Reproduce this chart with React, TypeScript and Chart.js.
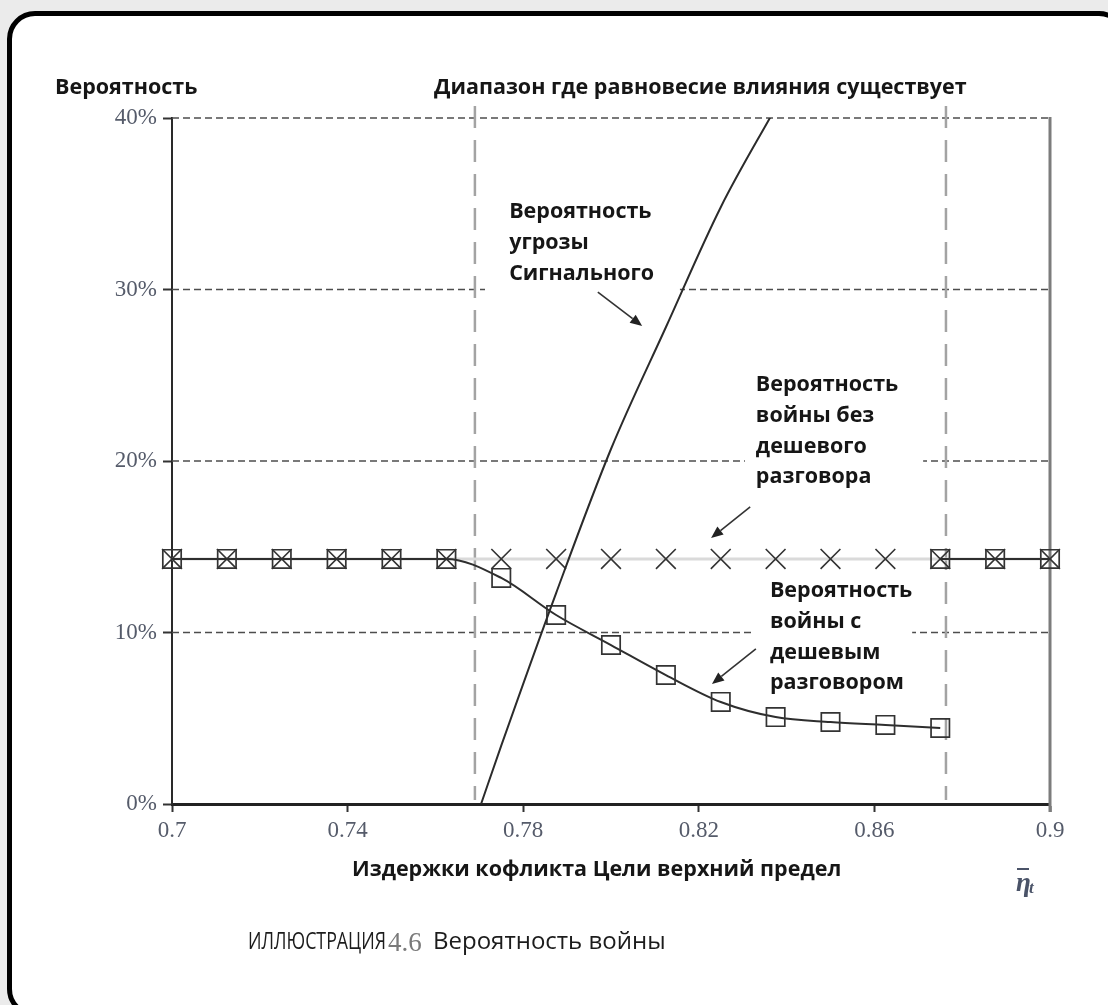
import React, { useEffect, useRef } from 'react';
import { Chart, registerables } from 'chart.js';

Chart.register(...registerables);

// ---- data (percent) ----
const gridX = [0.7, 0.7125, 0.725, 0.7375, 0.75, 0.7625, 0.775, 0.7875, 0.8, 0.8125, 0.825, 0.8375, 0.85, 0.8625, 0.875, 0.8875, 0.9];
const warNoTalk = [14.29, 14.29, 14.29, 14.29, 14.29, 14.29, 14.29, 14.29, 14.29, 14.29, 14.29, 14.29, 14.29, 14.29, 14.29, 14.29, 14.29];
const talkX = [0.7, 0.7125, 0.725, 0.7375, 0.75, 0.7625, 0.775, 0.7875, 0.8, 0.8125, 0.825, 0.8375, 0.85, 0.8625, 0.875];
const warCheapTalk = [14.29, 14.29, 14.29, 14.29, 14.29, 14.29, 13.18, 11.02, 9.27, 7.52, 5.95, 5.07, 4.78, 4.61, 4.43];
const talkTailX = [0.875, 0.8875, 0.9];
const warCheapTalkTail = [14.29, 14.29, 14.29];
const signalX = [0.7704, 0.775, 0.7875, 0.8, 0.8125, 0.825, 0.8375];
const signalThreat = [0, 3.4, 12.3, 20.7, 27.8, 34.8, 40.6];
const xTicks = [0.7, 0.74, 0.78, 0.82, 0.86, 0.9];
const yTicks = [0, 10, 20, 30, 40];
const rangeBounds = [0.769, 0.8763];

// ---- texts ----
const yTitle = 'Вероятность';
const topTitle = 'Диапазон где равновесие влияния существует';
const xTitle = 'Издержки кофликта Цели верхний предел';
const captionA = 'ИЛЛЮСТРАЦИЯ';
const captionNum = '4.6';
const captionB = 'Вероятность войны';
const signalLabel = ['Вероятность', 'угрозы', 'Сигнального'];
const noTalkLabel = ['Вероятность', 'войны без', 'дешевого', 'разговора'];
const talkLabel = ['Вероятность', 'войны с', 'дешевым', 'разговором'];

// annotation anchors in data units
const labelBlocks = [
  { lines: signalLabel, x: 0.7768, y: 34.52 },
  { lines: noTalkLabel, x: 0.833, y: 24.43 },
  { lines: talkLabel, x: 0.8362, y: 12.42 },
];
const maskBoxes = [
  { x1: 0.7713, x2: 0.8157, y1: 29.4, y2: 35.8 },
  { x1: 0.8305, x2: 0.8711, y1: 18.0, y2: 25.6 },
  { x1: 0.8328, x2: 0.8686, y1: 6.06, y2: 13.5 },
];
const arrows = [
  { x1: 0.797, y1: 29.85, x2: 0.8071, y2: 27.87 },
  { x1: 0.8317, y1: 17.32, x2: 0.8228, y2: 15.51 },
  { x1: 0.833, y1: 9.04, x2: 0.823, y2: 7.0 },
];

const toXY = (xs: number[], ys: number[]) => xs.map((v, i) => ({ x: v, y: ys[i] }));

const BOLD = '700 21.5px "Open Sans"';

const overlay = {
  id: 'overlay',
  beforeDatasetsDraw(chart: any) {
    const { ctx, chartArea: a, scales } = chart;
    const x = scales.x, y = scales.y;
    ctx.save();
    ctx.strokeStyle = '#4d4d4d';
    ctx.lineWidth = 1.6;
    ctx.setLineDash([7, 4]);
    yTicks.forEach((v) => {
      if (v === 0) return;
      const py = y.getPixelForValue(v);
      ctx.beginPath();
      ctx.moveTo(a.left, py);
      ctx.lineTo(a.right, py);
      ctx.stroke();
    });
    ctx.setLineDash([]);
    ctx.fillStyle = '#ffffff';
    maskBoxes.forEach((b) => {
      const x1 = x.getPixelForValue(b.x1), x2 = x.getPixelForValue(b.x2);
      const y1 = y.getPixelForValue(b.y2), y2 = y.getPixelForValue(b.y1);
      ctx.fillRect(x1, y1, x2 - x1, y2 - y1);
    });
    ctx.strokeStyle = '#a3a3a3';
    ctx.lineWidth = 2.5;
    ctx.setLineDash([22, 12]);
    rangeBounds.forEach((v) => {
      const px = x.getPixelForValue(v);
      ctx.beginPath();
      ctx.moveTo(px, a.top - 12);
      ctx.lineTo(px, a.bottom - 4);
      ctx.stroke();
    });
    ctx.setLineDash([]);
    ctx.strokeStyle = '#7c7c7c';
    ctx.lineWidth = 3;
    ctx.beginPath();
    ctx.moveTo(a.right, a.top - 1);
    ctx.lineTo(a.right, a.bottom + 8);
    ctx.stroke();
    ctx.restore();
  },
  afterDatasetsDraw(chart: any) {
    const { ctx, chartArea: a, scales } = chart;
    const x = scales.x, y = scales.y;
    ctx.save();
    ctx.fillStyle = '#161616';
    ctx.textBaseline = 'middle';
    ctx.textAlign = 'left';
    ctx.font = BOLD;
    labelBlocks.forEach((b) => {
      const px = x.getPixelForValue(b.x), py = y.getPixelForValue(b.y);
      b.lines.forEach((t, i) => ctx.fillText(t, px, py + i * 30.7));
    });
    ctx.strokeStyle = '#333';
    ctx.fillStyle = '#222';
    ctx.lineWidth = 1.6;
    arrows.forEach((r) => {
      const x1 = x.getPixelForValue(r.x1), y1 = y.getPixelForValue(r.y1);
      const x2 = x.getPixelForValue(r.x2), y2 = y.getPixelForValue(r.y2);
      const ang = Math.atan2(y2 - y1, x2 - x1);
      const hl = 12, hw = 5;
      const bx = x2 - hl * Math.cos(ang), by = y2 - hl * Math.sin(ang);
      ctx.beginPath();
      ctx.moveTo(x1, y1);
      ctx.lineTo(bx, by);
      ctx.stroke();
      ctx.beginPath();
      ctx.moveTo(x2, y2);
      ctx.lineTo(bx + hw * Math.sin(ang), by - hw * Math.cos(ang));
      ctx.lineTo(bx - hw * Math.sin(ang), by + hw * Math.cos(ang));
      ctx.closePath();
      ctx.fill();
    });
    ctx.fillStyle = '#161616';
    ctx.font = BOLD;
    ctx.fillText(yTitle, a.left - 117, 88);
    ctx.fillText(topTitle, 434, 88);
    ctx.fillText(xTitle, 352, 870);
    // eta with bar and subscript t
    ctx.fillStyle = '#4a5368';
    ctx.font = 'italic 700 27px "Liberation Serif"';
    ctx.fillText('η', 1016, 884);
    ctx.font = 'italic 700 17px "Liberation Serif"';
    ctx.fillText('t', 1029, 889);
    ctx.fillRect(1017, 868, 12, 2);
    // caption
    ctx.fillStyle = '#1c1c1c';
    ctx.font = '400 24px "Open Sans"';
    const wA = ctx.measureText(captionA).width;
    ctx.save();
    ctx.translate(248, 942);
    ctx.scale(138 / wA, 1);
    ctx.fillText(captionA, 0, 0);
    ctx.restore();
    let cx = 248 + 138 + 2;
    ctx.fillStyle = '#7a7a7a';
    ctx.font = '27px "Liberation Serif"';
    ctx.fillText(captionNum, cx, 944);
    cx = 433;
    ctx.fillStyle = '#1c1c1c';
    ctx.font = '400 24px "Open Sans"';
    ctx.fillText(captionB, cx, 942);
    ctx.restore();
  },
};

export default function App() {
  const ref = useRef<HTMLCanvasElement | null>(null);

  useEffect(() => {
    document.body.style.margin = '0';
    const canvas = ref.current;
    if (!canvas) return;
    const chart = new Chart(canvas, {
      type: 'line',
      data: {
        datasets: [
          {
            label: 'signal',
            data: toXY(signalX, signalThreat),
            borderColor: '#2b2b2b',
            borderWidth: 2,
            pointRadius: 0,
            cubicInterpolationMode: 'monotone',
            order: 0,
          },
          {
            label: 'talk',
            data: toXY(talkX, warCheapTalk),
            borderColor: '#2e2e2e',
            borderWidth: 2,
            pointStyle: 'rect',
            pointRadius: 13,
            pointBorderColor: '#333',
            pointBorderWidth: 1.7,
            pointBackgroundColor: 'rgba(0,0,0,0)',
            cubicInterpolationMode: 'monotone',
            clip: false,
            order: 1,
          },
          {
            label: 'talkTail',
            data: toXY(talkTailX, warCheapTalkTail),
            borderColor: '#2e2e2e',
            borderWidth: 2,
            pointStyle: 'rect',
            pointRadius: 13,
            pointBorderColor: '#333',
            pointBorderWidth: 1.7,
            pointBackgroundColor: 'rgba(0,0,0,0)',
            clip: false,
            order: 1,
          },
          {
            label: 'noTalk',
            data: toXY(gridX, warNoTalk),
            borderColor: '#dadada',
            borderWidth: 3,
            pointStyle: 'crossRot',
            pointRadius: 14,
            pointBorderColor: '#333',
            pointBorderWidth: 1.6,
            clip: false,
            order: 3,
          },
        ],
      } as any,
      options: {
        animation: false,
        responsive: false,
        layout: { padding: { left: 0, right: 58, top: 118, bottom: 0 } },
        plugins: { legend: { display: false }, tooltip: { enabled: false } },
        scales: {
          x: {
            type: 'linear',
            min: 0.7,
            max: 0.9,
            afterBuildTicks: (s: any) => { s.ticks = xTicks.map((v) => ({ value: v })); },
            afterFit: (s: any) => { s.height = 201; },
            ticks: {
              color: '#555b6a',
              font: { family: '"Liberation Serif"', size: 23 },
              padding: 5,
              maxRotation: 0,
              autoSkip: false,
              callback: (v: any) => String(+Number(v).toFixed(2)),
            },
            grid: { drawOnChartArea: false, drawTicks: true, tickLength: 8, tickColor: '#333', tickWidth: 2 },
            border: { display: true, color: '#222', width: 3 },
          },
          y: {
            type: 'linear',
            min: 0,
            max: 40,
            afterBuildTicks: (s: any) => { s.ticks = yTicks.map((v) => ({ value: v })); },
            afterFit: (s: any) => { s.width = 172; },
            ticks: {
              color: '#555b6a',
              font: { family: '"Liberation Serif"', size: 23 },
              padding: 6,
              callback: (v: any) => `${v}%`,
            },
            grid: { drawOnChartArea: false, drawTicks: true, tickLength: 9, tickColor: '#333', tickWidth: 2 },
            border: { display: true, color: '#2a2a2a', width: 2 },
          },
        },
      } as any,
      plugins: [overlay],
    });
    return () => chart.destroy();
  }, []);

  return (
    <div style={{ position: 'relative', width: 1108, height: 1005, overflow: 'hidden', background: '#ebebeb' }}>
      <div
        style={{
          position: 'absolute',
          left: 7,
          top: 11,
          width: 1120,
          height: 1006,
          boxSizing: 'border-box',
          border: '5px solid #000',
          borderRadius: 28,
          background: '#fff',
        }}
      />
      <canvas
        ref={ref}
        width={1108}
        height={1005}
        style={{ position: 'absolute', left: 0, top: 0, width: 1108, height: 1005 }}
      />
    </div>
  );
}
